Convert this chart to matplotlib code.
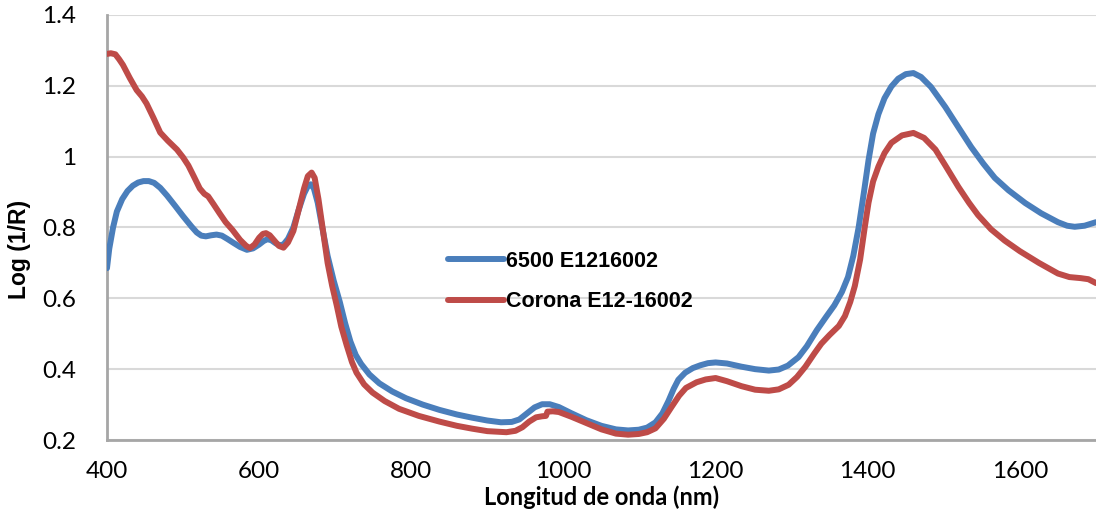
import matplotlib.pyplot as plt

# longitudes de onda (nm) y valores log(1/R)
nm_6500 = [400, 403, 408, 413, 420, 427, 434, 441, 448, 455, 462, 470, 479, 490,
           500, 511, 518, 524, 530, 537, 544, 551, 558, 566, 575, 584, 592, 600,
           606, 611, 616, 622, 627, 632, 638, 645, 652, 659, 664, 668, 672, 677,
           683, 690, 698, 706, 713, 720, 727, 734, 745, 758, 775, 793, 815, 837,
           860, 880, 900, 918, 932, 942, 952, 962, 972, 982, 994, 1010, 1030, 1050,
           1069, 1085, 1099, 1110, 1121, 1130, 1138, 1145, 1151, 1160, 1170, 1180,
           1190, 1200, 1215, 1234, 1252, 1270, 1283, 1295, 1309, 1320, 1333, 1345,
           1356, 1366, 1374, 1381, 1388, 1395, 1401, 1407, 1414, 1422, 1431, 1440,
           1450, 1460, 1470, 1483, 1502, 1520, 1536, 1552, 1567, 1585, 1607, 1628,
           1650, 1662, 1672, 1685, 1700]
log_6500 = [0.685, 0.74, 0.80, 0.845, 0.88, 0.903, 0.918, 0.927, 0.931, 0.931, 0.926,
            0.912, 0.89, 0.86, 0.832, 0.803, 0.786, 0.777, 0.775, 0.778, 0.78, 0.777,
            0.768, 0.757, 0.745, 0.737, 0.741, 0.752, 0.762, 0.767, 0.764, 0.755, 0.75,
            0.752, 0.768, 0.80, 0.85, 0.895, 0.917, 0.922, 0.91, 0.87, 0.80, 0.72, 0.65,
            0.59, 0.53, 0.478, 0.44, 0.415, 0.385, 0.36, 0.337, 0.318, 0.30, 0.285,
            0.272, 0.263, 0.255, 0.25, 0.251, 0.258, 0.275, 0.292, 0.301, 0.301, 0.293,
            0.276, 0.256, 0.24, 0.23, 0.227, 0.229, 0.235, 0.25, 0.275, 0.31, 0.345,
            0.37, 0.39, 0.403, 0.411, 0.417, 0.419, 0.416, 0.407, 0.40, 0.396, 0.399,
            0.41, 0.434, 0.465, 0.51, 0.547, 0.58, 0.618, 0.66, 0.72, 0.80, 0.90, 0.99,
            1.065, 1.12, 1.165, 1.198, 1.22, 1.233, 1.236, 1.225, 1.197, 1.14, 1.08,
            1.027, 0.98, 0.94, 0.905, 0.869, 0.84, 0.815, 0.805, 0.802, 0.805, 0.815]

nm_corona = [400, 405, 411, 416, 421, 430, 439, 446, 452, 461, 470, 480, 492, 500,
             507, 514, 522, 528, 533, 540, 548, 556, 565, 575, 583, 588, 594, 600,
             605, 609, 614, 620, 626, 632, 638, 645, 652, 659, 664, 669, 673, 678,
             684, 690, 696, 702, 708, 715, 722, 728, 738, 749, 765, 784, 810, 837,
             860, 880, 900, 925, 937, 946, 955, 964, 972, 977, 979, 986, 994, 1010,
             1030, 1050, 1069, 1085, 1099, 1110, 1121, 1132, 1142, 1152, 1161, 1175,
             1187, 1200, 1215, 1234, 1252, 1270, 1283, 1296, 1307, 1318, 1330, 1339,
             1350, 1362, 1370, 1377, 1383, 1390, 1396, 1401, 1407, 1414, 1422, 1431,
             1445, 1460, 1474, 1489, 1502, 1519, 1533, 1545, 1562, 1580, 1600, 1625,
             1650, 1665, 1680, 1690, 1700]
log_corona = [1.29, 1.292, 1.289, 1.275, 1.259, 1.222, 1.188, 1.17, 1.15, 1.11, 1.068,
              1.045, 1.02, 0.998, 0.975, 0.945, 0.91, 0.895, 0.888, 0.866, 0.84, 0.815,
              0.793, 0.765, 0.748, 0.742, 0.752, 0.771, 0.782, 0.784, 0.778, 0.763, 0.748,
              0.743, 0.758, 0.79, 0.85, 0.91, 0.945, 0.955, 0.94, 0.88, 0.79, 0.70, 0.635,
              0.58, 0.52, 0.468, 0.42, 0.39, 0.357, 0.334, 0.31, 0.288, 0.268, 0.252,
              0.24, 0.232, 0.225, 0.222, 0.226, 0.236, 0.252, 0.264, 0.267, 0.268, 0.28,
              0.281, 0.279, 0.266, 0.248, 0.23, 0.218, 0.215, 0.217, 0.222, 0.233, 0.26,
              0.293, 0.325, 0.347, 0.363, 0.371, 0.375, 0.366, 0.352, 0.342, 0.339, 0.343,
              0.356, 0.378, 0.407, 0.445, 0.472, 0.497, 0.522, 0.55, 0.59, 0.635, 0.71,
              0.80, 0.87, 0.93, 0.972, 1.01, 1.039, 1.06, 1.067, 1.053, 1.02, 0.975,
              0.915, 0.87, 0.835, 0.795, 0.763, 0.733, 0.70, 0.67, 0.66, 0.657, 0.654,
              0.643]

x_ticks = [400, 600, 800, 1000, 1200, 1400, 1600]
y_ticks = [0.2, 0.4, 0.6, 0.8, 1.0, 1.2, 1.4]
y_labels = ["0.2", "0.4", "0.6", "0.8", "1", "1.2", "1.4"]

fig = plt.figure(figsize=(10.96, 5.13), dpi=100)
ax = fig.add_axes([0.0976, 0.1423, 0.9024, 0.8285])

ax.plot(nm_6500, log_6500, color="#4a7ebb", lw=4.3, label="6500 E1216002",
        solid_capstyle="round", solid_joinstyle="round", zorder=3)
ax.plot(nm_corona, log_corona, color="#be4b48", lw=4.3, label="Corona E12-16002",
        solid_capstyle="round", solid_joinstyle="round", zorder=3)

ax.set_xlim(400, 1700)
ax.set_ylim(0.2, 1.4)
ax.set_xticks(x_ticks)
ax.set_yticks(y_ticks)
ax.set_yticklabels(y_labels)
ax.tick_params(length=0, labelsize=17.5)
ax.tick_params(axis="y", pad=22)
ax.tick_params(axis="x", pad=15)
for lab in ax.get_xticklabels() + ax.get_yticklabels():
    lab.set_family("Lato")

ax.grid(axis="y", color="#d9d9d9", lw=1.5)
ax.set_axisbelow(True)
for s in ["top", "right"]:
    ax.spines[s].set_visible(False)
for s in ["left", "bottom"]:
    ax.spines[s].set_color("#a6a6a6")
    ax.spines[s].set_linewidth(2)

ax.set_xlabel("Longitud de onda (nm)", fontsize=17, fontweight="bold", family="Lato")
ax.xaxis.set_label_coords(0.5, -0.108)
ax.set_ylabel("Log (1/R)", fontsize=16.5, fontweight="bold", family="Liberation Sans")
ax.yaxis.set_label_coords(-0.077, 0.449)

leg = ax.legend(loc="center left", bbox_to_anchor=(0.325, 0.373), frameon=False,
                prop={"family": "Liberation Sans", "weight": "bold", "size": 15.5},
                handlelength=2.6, handletextpad=0.1, labelspacing=0.9)

fig.savefig("out.png", dpi=100)
